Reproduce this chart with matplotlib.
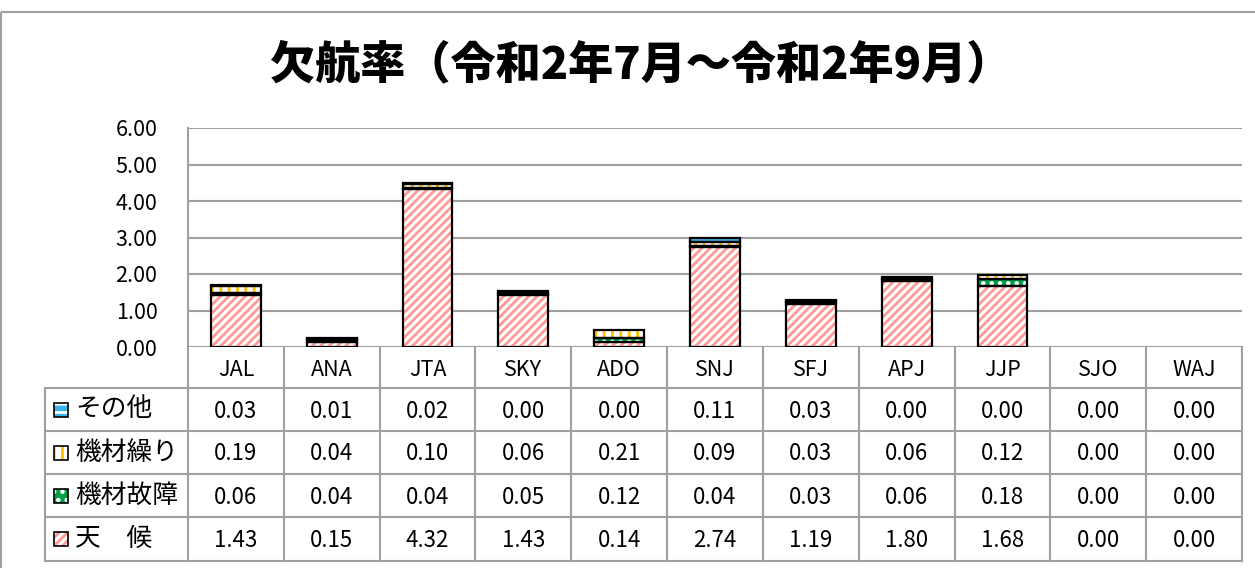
# 欠航率 stacked bar chart with data table underneath

import matplotlib.pyplot as plt
from matplotlib.patches import Rectangle

plt.rcParams['font.family'] = ['Noto Sans CJK JP', 'DejaVu Sans']
plt.rcParams['hatch.linewidth'] = 2.0

title = '欠航率（令和2年7月～令和2年9月）'
airlines = ['JAL', 'ANA', 'JTA', 'SKY', 'ADO', 'SNJ', 'SFJ', 'APJ', 'JJP', 'SJO', 'WAJ']
weather = [1.43, 0.15, 4.32, 1.43, 0.14, 2.74, 1.19, 1.80, 1.68, 0.00, 0.00]
failure = [0.06, 0.04, 0.04, 0.05, 0.12, 0.04, 0.03, 0.06, 0.18, 0.00, 0.00]
rotation = [0.19, 0.04, 0.10, 0.06, 0.21, 0.09, 0.03, 0.06, 0.12, 0.00, 0.00]
other = [0.03, 0.01, 0.02, 0.00, 0.00, 0.11, 0.03, 0.00, 0.00, 0.00, 0.00]
yticks = [0, 1, 2, 3, 4, 5, 6]

# stacking order, bottom to top
stack = [
    ('天　候', weather, 'white', '#FF9999', '////'),
    ('機材故障', failure, '#00A046', 'white', '..'),
    ('機材繰り', rotation, 'white', '#FFC000', '||'),
    ('その他', other, '#3DB4E6', 'white', '--'),
]

W, H = 1255, 568
fig = plt.figure(figsize=(W / 100, H / 100), dpi=100)

# background axes in pixel coordinates for title, table and frame
bg = fig.add_axes([0, 0, 1, 1], zorder=0)
bg.set_xlim(0, W)
bg.set_ylim(H, 0)
bg.axis('off')

grid_col = '#A0A0A0'
bg.add_patch(Rectangle((1, 12), 1400, 700, fill=False, edgecolor=grid_col, lw=1.5))
bg.text(641, 65, title, ha='center', va='center', fontsize=32.5, fontweight='heavy')

# plot area
x0, x1, ytop, ybot = 188, 1242, 128, 347
ax = fig.add_axes([x0 / W, 1 - ybot / H, (x1 - x0) / W, (ybot - ytop) / H], zorder=1)
ax.set_facecolor('none')
n = len(airlines)
xs = list(range(n))
ax.set_xlim(-0.5, n - 0.5)
ax.set_ylim(0, 6)
ax.set_yticks(yticks)
ax.set_yticklabels([f'{v:.2f}' for v in yticks], fontsize=15.5)
ax.tick_params(axis='y', length=0, pad=22)
ax.set_xticks([])
for s in ['top', 'right', 'bottom']:
    ax.spines[s].set_visible(False)
ax.spines['left'].set_color(grid_col)
ax.spines['left'].set_linewidth(1.5)
ax.yaxis.grid(True, color=grid_col, lw=1.5)
ax.set_axisbelow(True)

bw = 0.52
bottom = [0.0] * n
for name, vals, face, hcol, hatch in stack:
    ax.bar(xs, vals, bw, bottom=bottom, color=face, edgecolor=hcol, hatch=hatch, lw=0, zorder=2)
    for i, v in enumerate(vals):
        if v > 0:
            ax.bar(xs[i], v, bw, bottom=bottom[i], fill=False, edgecolor='black', lw=1.6, zorder=3)
    bottom = [b + v for b, v in zip(bottom, vals)]

# data table
colw = (x1 - x0) / n
lab_x = 45
row_lines = [388, 431, 474, 517, 561]
tline = dict(color=grid_col, lw=1.5)
for y in row_lines:
    bg.plot([lab_x, x1], [y, y], **tline)
bg.plot([lab_x, lab_x], [row_lines[0], row_lines[-1]], **tline)
for k in range(n + 1):
    xx = x0 + k * colw
    bg.plot([xx, xx], [ybot, row_lines[-1]], **tline)

for i, a in enumerate(airlines):
    bg.text(x0 + (i + 0.5) * colw, (ybot + row_lines[0]) / 2 + 2, a,
            ha='center', va='center', fontsize=15.5)

for r, (name, vals, face, hcol, hatch) in enumerate(reversed(stack)):
    yc = (row_lines[r] + row_lines[r + 1]) / 2
    bg.add_patch(Rectangle((54, yc - 7), 14, 14, facecolor=face, edgecolor=hcol, hatch=hatch, lw=0))
    bg.add_patch(Rectangle((54, yc - 7), 14, 14, fill=False, edgecolor='black', lw=1.2))
    bg.text(75, yc, name, ha='left', va='center', fontsize=18.5)
    for i, v in enumerate(vals):
        bg.text(x0 + (i + 0.5) * colw, yc + 1.5, f'{v:.2f}', ha='center', va='center', fontsize=16)

fig.savefig('out.png', dpi=100)
